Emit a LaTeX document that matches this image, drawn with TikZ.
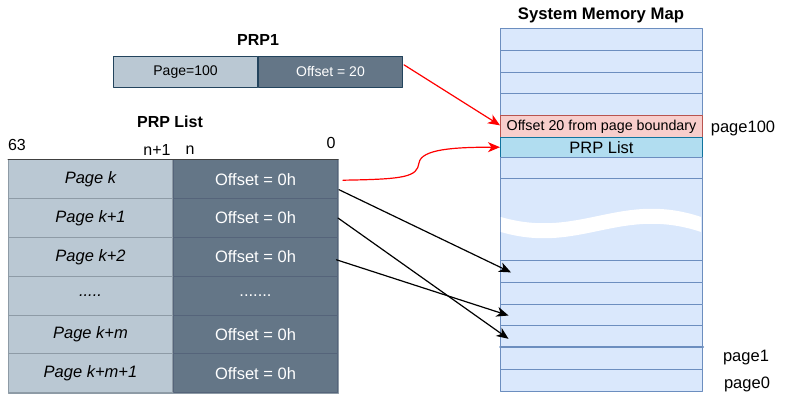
\documentclass[tikz,border=0pt]{standalone}
\usepackage{fontspec}
\setmainfont{Liberation Sans}
\usetikzlibrary{arrows.meta, calc, positioning}

\definecolor{slatelight}{HTML}{BAC8D3}
\definecolor{slatedark}{HTML}{647687}
\definecolor{slateedge}{HTML}{23445D}
\definecolor{rowline}{HTML}{8E9BA6}
\definecolor{rowlinedk}{HTML}{55647A}
\definecolor{memfill}{HTML}{DAE8FC}
\definecolor{memedge}{HTML}{6C8EBF}
\definecolor{hitfill}{HTML}{F8CECC}
\definecolor{hitedge}{HTML}{B85450}
\definecolor{listfill}{HTML}{B1DDF0}
\definecolor{listedge}{HTML}{10739E}

\newcommand{\fsz}[1]{\fontsize{#1}{#1}\selectfont}

\tikzset{
	pagecell/.style={draw=rowline, fill=slatelight, line width=1pt, anchor=north west,
		minimum width=164pt, minimum height=38.8pt, inner sep=0pt, font=\itshape\fsz{16.5}},
	offcell/.style={draw=rowlinedk, fill=slatedark, line width=1pt, text=white,
		minimum width=164pt, minimum height=38.8pt, inner sep=0pt, font=\fsz{16.5}},
	prpcell/.style={draw=slateedge, line width=1pt, minimum width=144pt,
		minimum height=30.7pt, inner sep=0pt, font=\fsz{14}},
	memrow/.style={draw=memedge, fill=memfill, line width=1pt, anchor=north west,
		minimum width=202pt, minimum height=21.7pt, inner sep=0pt},
	title/.style={font=\bfseries\fsz{16}},
	tag/.style={font=\fsz{16}, inner sep=0pt},
	ptr/.style={-{Stealth[length=12pt,width=10pt,inset=3.5pt]}, line width=1.2pt}
}

\begin{document}
\begin{tikzpicture}[>=Latex, line cap=round, line join=round, x=1pt, y=-1pt]
\useasboundingbox (0,0) rectangle (791,403);

%========================
% PRP1 entry
%========================
\node[title] (prp1title) at (258,40) {PRP1};
\node[prpcell, fill=slatelight, anchor=north west] (prppage) at (113,56) {Page=100};
\node[prpcell, fill=slatedark, text=white, right=0pt of prppage] (prpoff) {Offset = 20};

%========================
% PRP List table
%========================
\node[title] (listtitle) at (170,122) {PRP List};
\node[tag] (bit63) at (17,145) {63};
\node[tag] (bitnp) at (157,150) {n+1};
\node[tag] (bitn) at (190,150) {n};
\node[tag] (bit0) at (331,143) {0};

\foreach \lbl/\off [count=\i from 0] in {Page k/Offset = 0h, Page k+1/Offset = 0h,
	Page k+2/Offset = 0h, {.....}/{.......}, Page k+m/Offset = 0h, Page k+m+1/Offset = 0h}
{
	\node[pagecell] (pg\i) at (8,{159.3+38.8*\i}) {\lbl};
	\node[offcell, right=0pt of pg\i] (off\i) {\off};
}
% frame
\draw[rowline, line width=1pt] (pg0.north west) rectangle (off5.south east);
\draw[black!75, line width=1pt] (pg0.north west) -- (off0.north east);

%========================
% System memory map
%========================
\node[title, font=\bfseries\fsz{16.7}] (memtitle) at (601,15) {System Memory Map};
\foreach \i in {0,...,3}
	\node[memrow] (m\i) at (500,{28.3+21.7*\i}) {};
\node[memrow, fill=hitfill, draw=hitedge, font=\fsz{14.3}] (moff) at (500,115)
	{Offset 20 from page boundary};
\node[memrow, fill=listfill, draw=listedge, minimum height=20pt, font=\fsz{16.5}] (mlist)
	at (500,136.7) {PRP List};
\node[memrow, minimum height=21.6pt] (m6) at (500,156.7) {};
\node[memrow, minimum height=81.7pt] (mgap) at (500,178.3) {};
\foreach \j in {0,...,5}
	\node[memrow, minimum height=21.8pt] (b\j) at (500,{260+21.8*\j}) {};
\draw[memedge, line width=2pt] (b4.north west) -- (b4.north east);

% break in the map
\fill[white] (500.8,217) .. controls (580,240) and (620,190) .. (701.2,217)
	-- (701.2,232) .. controls (620,205) and (580,255) .. (500.8,232) -- cycle;

\node[tag, font=\fsz{16.5}] (pg100) at (743,128) {page100};
\node[tag, font=\fsz{16.5}] (pgone) at (746,358) {page1};
\node[tag, font=\fsz{16.5}] (pgzero) at (747,384) {page0};

%========================
% pointers
%========================
\draw[ptr, red] ($(prpoff.east)+(1,-7)$) -- ($(moff.west)+(0,-1)$);
\draw[ptr, red] ($(off0.east)+(5,1)$) .. controls +(62,-1) and +(-2,14) .. (419,163)
	.. controls +(2,-14) and +(-45,0) .. (mlist.west);

\draw[ptr] ($(off0.east)+(1,10.5)$) -- ($(b0.west)+(11,1)$);
\draw[ptr] (off1.east) -- ($(b3.west)+(8.5,2)$);
\draw[ptr] ($(off2.east)+(-1.5,3)$) -- ($(b2.west)+(8.5,0.5)$);

\end{tikzpicture}
\end{document}
